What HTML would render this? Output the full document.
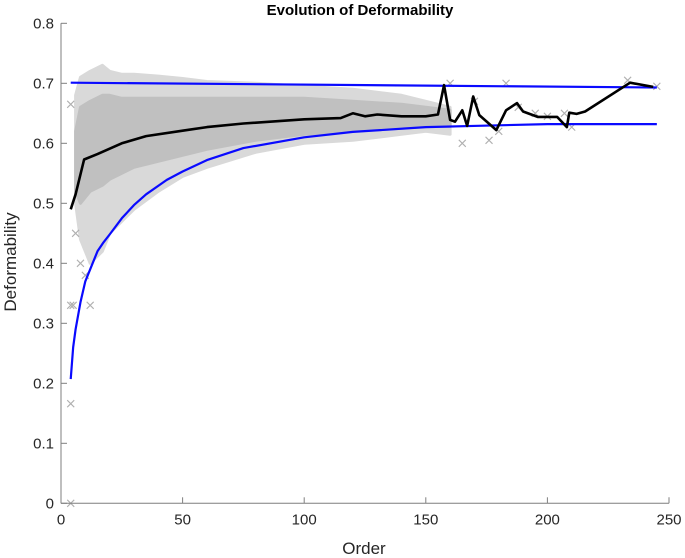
<!DOCTYPE html>
<html><head><meta charset="utf-8"><style>
body{margin:0;background:#fff;}
svg{display:block;font-family:"Liberation Sans",Arial,sans-serif;}
</style></head><body>
<svg id="chart" width="685" height="558" viewBox="0 0 685 558" xmlns="http://www.w3.org/2000/svg">
<text x="360" y="15" text-anchor="middle" font-size="15" font-weight="bold" fill="#000">Evolution of Deformability</text>
<g id="plot"></g>
<g id="axes"></g>
<text x="364" y="554" text-anchor="middle" font-size="17" fill="#262626">Order</text>
<text transform="translate(16,262) rotate(-90)" text-anchor="middle" font-size="17" fill="#262626">Deformability</text>
</svg>
<script>
const xTicks=[0,50,100,150,200,250];
const yTicks=[0,0.1,0.2,0.3,0.4,0.5,0.6,0.7,0.8];
const yTickLabels=["0","0.1","0.2","0.3","0.4","0.5","0.6","0.7","0.8"];
const bandOrder=[6,8,12,17,20,25,30,40,50,60,80,100,120,140,150,160];
const bandTop=[0.68,0.71,0.72,0.73,0.72,0.715,0.715,0.712,0.708,0.703,0.70,0.695,0.69,0.68,0.67,0.66];
const bandBottom=[0.50,0.44,0.40,0.42,0.45,0.47,0.49,0.52,0.545,0.56,0.585,0.60,0.605,0.615,0.62,0.615];
const coreTop=[0.62,0.66,0.67,0.68,0.68,0.675,0.675,0.675,0.675,0.675,0.675,0.675,0.67,0.665,0.66,0.655];
const coreBottom=[0.52,0.50,0.52,0.53,0.54,0.55,0.56,0.57,0.58,0.59,0.605,0.615,0.62,0.625,0.628,0.628];
const outX=[4,4,5,4,4,12,8,6,10,160,183,165,176,195,207,233,245,210,180,170,188,200];
const outY=[0.665,0.33,0.33,0.166,0.0,0.33,0.40,0.45,0.38,0.70,0.70,0.60,0.605,0.65,0.65,0.705,0.695,0.627,0.62,0.67,0.66,0.645];
const meanX=[4,6,9.5,15,25,35,50,60,75,100,115,120,125,130,140,150,155,157.5,160,162,165,167,169.5,172,179,183,187.5,190,196,204,208,209,212,215.5,234,243.5];
const meanY=[0.49,0.515,0.573,0.582,0.60,0.612,0.621,0.627,0.633,0.64,0.642,0.65,0.645,0.648,0.645,0.645,0.648,0.697,0.639,0.636,0.655,0.629,0.678,0.647,0.622,0.655,0.667,0.653,0.644,0.644,0.627,0.651,0.649,0.653,0.701,0.694];
const upperX=[4,245];
const upperY=[0.701,0.693];
const lowerX=[4,5,6,8,10,12.5,15,17.5,20,25,30,35,43.5,50,60,75,100,120,150,200,245];
const lowerY=[0.207,0.26,0.29,0.335,0.37,0.395,0.42,0.435,0.448,0.475,0.497,0.515,0.539,0.553,0.572,0.592,0.610,0.619,0.627,0.632,0.632];

const NS="http://www.w3.org/2000/svg";
const X0=61,XS=(669-61)/250,Y0=503.3,YS=600;
const sx=v=>X0+v*XS, sy=v=>Y0-v*YS;
const plot=document.getElementById('plot'), axes=document.getElementById('axes');
function mk(tag,attrs,parent){const e=document.createElementNS(NS,tag);for(const k in attrs)e.setAttribute(k,attrs[k]);parent.appendChild(e);return e;}

function band(top,bot,fill,name){
  let d='M'+bandOrder.map((o,i)=>sx(o)+','+sy(top[i])).join('L');
  for(let i=bandOrder.length-1;i>=0;i--)d+='L'+sx(bandOrder[i])+','+sy(bot[i]);
  const p=mk('path',{d:d+'Z',fill:fill,stroke:fill,'stroke-width':3,'stroke-linejoin':'round'},plot);
  
  
}
band(bandTop,bandBottom,'#d9d9d9','scatter-band-outer');
band(coreTop,coreBottom,'#c0c0c0','scatter-band-core');

outX.forEach((o,i)=>{
  const x=sx(o),y=sy(outY[i]);
  const p=mk('path',{d:`M${x-3.5},${y-3.5}L${x+3.5},${y+3.5}M${x-3.5},${y+3.5}L${x+3.5},${y-3.5}`,stroke:'#b0b0b0','stroke-width':1.1,fill:'none'},plot);
  
  
});

function line(xs,ys,color,w,name){
  const p=mk('polyline',{points:xs.map((o,i)=>sx(o)+','+sy(ys[i])).join(' '),fill:'none',stroke:color,'stroke-width':w,'stroke-linejoin':'round'},plot);
  
  
}
line(upperX,upperY,'#0a0aff',2.2,'upper-bound-line');
line(lowerX,lowerY,'#0a0aff',2.2,'lower-bound-curve');
line(meanX,meanY,'#000',2.6,'mean-line');

const ac='#7f7f7f';
let a=mk('line',{x1:X0,y1:Y0,x2:669,y2:Y0,stroke:ac,'stroke-width':1},axes);


a=mk('line',{x1:X0,y1:Y0,x2:X0,y2:sy(0.8),stroke:ac,'stroke-width':1},axes);


xTicks.forEach(t=>{
  const x=sx(t);
  const l=mk('line',{x1:x,y1:Y0,x2:x,y2:Y0-6,stroke:ac},axes);
  
  
  const tx=mk('text',{x:x,y:Y0+21,'text-anchor':'middle','font-size':15,fill:'#262626'},axes);
  tx.textContent=String(t);
  
  
});
yTicks.forEach((t,i)=>{
  const y=sy(t);
  const l=mk('line',{x1:X0,y1:y,x2:X0+6,y2:y,stroke:ac},axes);
  
  
  const tx=mk('text',{x:X0-7,y:y+5,'text-anchor':'end','font-size':15,fill:'#262626'},axes);
  tx.textContent=yTickLabels[i];
  
  
});
</script>
</body></html>
